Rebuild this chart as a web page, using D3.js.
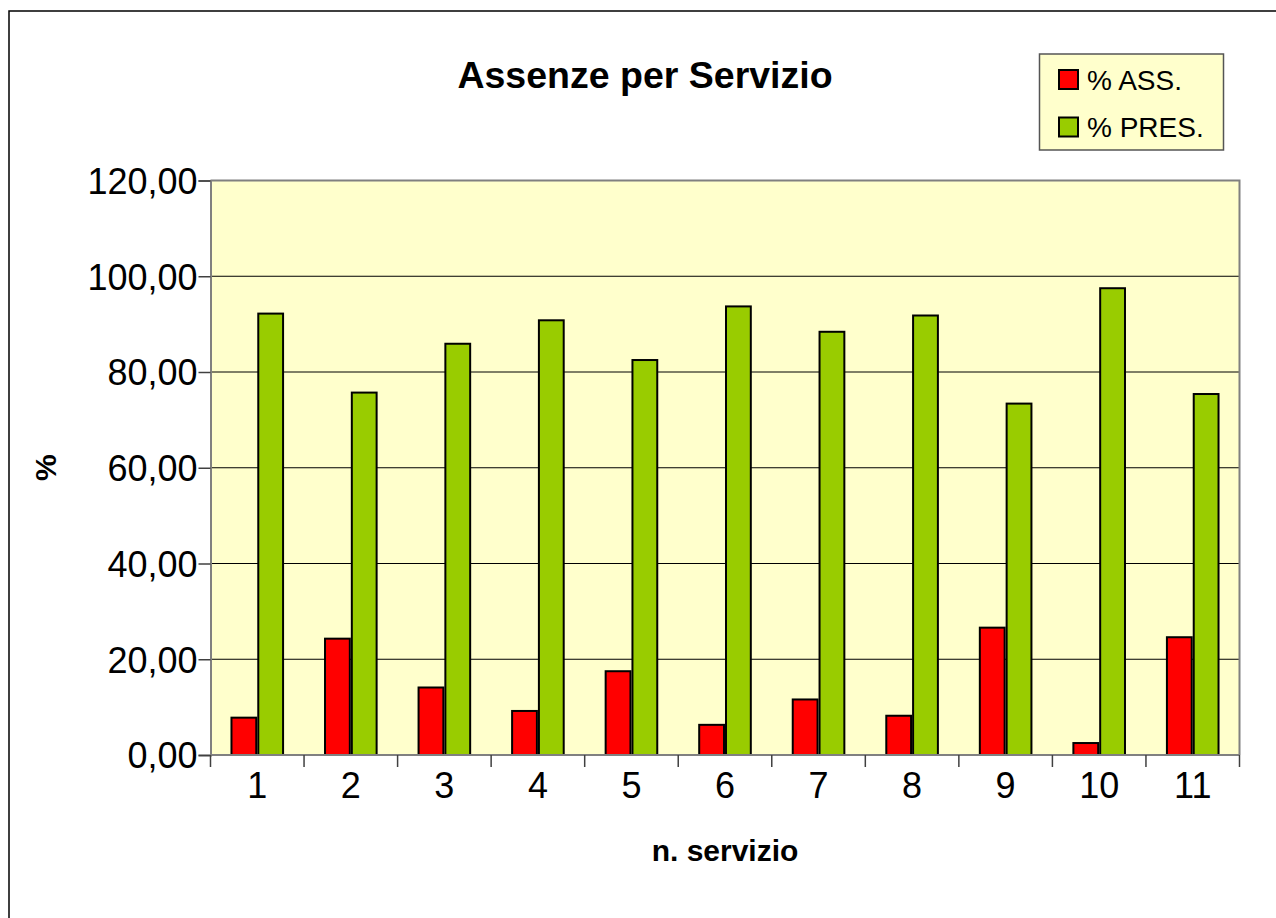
<!DOCTYPE html>
<html>
<head>
<meta charset="utf-8">
<script src="https://cdn.jsdelivr.net/npm/d3@7"></script>
<style>
  body { margin: 0; background: #fff; }
  svg { display: block; font-family: "Liberation Sans", Arial, sans-serif; }
</style>
</head>
<body>
<script>
// data
const categories = ["1", "2", "3", "4", "5", "6", "7", "8", "9", "10", "11"]
const series = ["% ASS.", "% PRES."]
const assenze = [7.8, 24.3, 14.1, 9.2, 17.5, 6.3, 11.6, 8.2, 26.6, 2.5, 24.6]
const presenze = [92.2, 75.7, 85.9, 90.8, 82.5, 93.7, 88.4, 91.8, 73.4, 97.5, 75.4]
const yTicks = [0, 20, 40, 60, 80, 100, 120]
const colors = ["#ff0000", "#99cc00"]

const W = 1276, H = 918
const plot = { left: 210.5, top: 180.5, right: 1239.5, bottom: 755 }

const svg = d3.select("body").append("svg")
  .attr("width", W)
  .attr("height", H)

// outer chart border
svg.append("rect")
  .attr("x", 9).attr("y", 11)
  .attr("width", W + 20).attr("height", H + 20)
  .attr("fill", "none")
  .attr("stroke", "#000")
  .attr("stroke-width", 1.5)

const x = d3.scaleBand()
  .domain(categories)
  .range([plot.left, plot.right])
  .padding(0)

const xInner = d3.scaleBand()
  .domain(series)
  .range([0, x.bandwidth()])
  .paddingInner(0)
  .paddingOuter(0.745)

const y = d3.scaleLinear()
  .domain([0, 120])
  .range([plot.bottom, plot.top])

// plot background
svg.append("rect")
  .attr("x", plot.left).attr("y", plot.top)
  .attr("width", plot.right - plot.left)
  .attr("height", plot.bottom - plot.top)
  .attr("fill", "#ffffcc")

// gridlines
svg.append("g")
  .selectAll("line")
  .data(yTicks.filter(t => t > 0 && t < 120))
  .join("line")
  .attr("x1", plot.left).attr("x2", plot.right)
  .attr("y1", d => y(d)).attr("y2", d => y(d))
  .attr("stroke", "#000")
  .attr("stroke-width", 1)

// plot area border (top / right)
svg.append("path")
  .attr("d", `M${plot.left},${plot.top}H${plot.right}V${plot.bottom}`)
  .attr("fill", "none")
  .attr("stroke", "#808080")
  .attr("stroke-width", 2)

// bars
const rows = categories.map((c, i) => ({ cat: c, vals: [assenze[i], presenze[i]] }))
const groups = svg.append("g")
  .selectAll("g")
  .data(rows)
  .join("g")
  .attr("transform", d => `translate(${x(d.cat)},0)`)

groups.selectAll("rect")
  .data(d => d.vals.map((v, j) => ({ key: series[j], v: v, j: j })))
  .join("rect")
  .attr("x", d => xInner(d.key) + 1)
  .attr("width", xInner.bandwidth() - 2)
  .attr("y", d => y(d.v))
  .attr("height", d => y(0) - y(d.v))
  .attr("fill", d => colors[d.j])
  .attr("stroke", "#000")
  .attr("stroke-width", 2)

// y axis
const fmt = d => d3.format(".2f")(d).replace(".", ",")
const yAxis = svg.append("g")
  .attr("transform", `translate(${plot.left},0)`)
  .call(d3.axisLeft(y).tickValues(yTicks).tickFormat(fmt).tickSize(12).tickPadding(0))
yAxis.select(".domain").attr("stroke", "#808080").attr("stroke-width", 2)
yAxis.selectAll(".tick line").attr("stroke", "#404040").attr("stroke-width", 1.5)
yAxis.selectAll("text")
  .attr("font-size", 36)
  .attr("fill", "#000")
  .attr("x", -13)
  .attr("dy", "0.36em")

// x axis: ticks sit on band edges
const xAxis = svg.append("g")
  .attr("transform", `translate(0,${plot.bottom})`)
xAxis.append("line")
  .attr("x1", plot.left).attr("x2", plot.right)
  .attr("stroke", "#808080")
  .attr("stroke-width", 2)
const edges = categories.map(c => x(c)).concat([plot.right])
xAxis.selectAll(".edge")
  .data(edges)
  .join("line")
  .attr("class", "edge")
  .attr("x1", d => d).attr("x2", d => d)
  .attr("y1", 0).attr("y2", 12)
  .attr("stroke", "#404040")
  .attr("stroke-width", 1.5)
xAxis.selectAll("text")
  .data(categories)
  .join("text")
  .attr("x", d => x(d) + x.bandwidth() / 2)
  .attr("y", 43)
  .attr("text-anchor", "middle")
  .attr("font-size", 36)
  .text(d => d)

// titles
svg.append("text")
  .attr("x", 645).attr("y", 88)
  .attr("text-anchor", "middle")
  .attr("font-size", 37.5)
  .attr("font-weight", "bold")
  .text("Assenze per Servizio")

svg.append("text")
  .attr("x", 725).attr("y", 861)
  .attr("text-anchor", "middle")
  .attr("font-size", 30)
  .attr("font-weight", "bold")
  .text("n. servizio")

svg.append("text")
  .attr("transform", `translate(56,${(plot.top + plot.bottom) / 2}) rotate(-90)`)
  .attr("text-anchor", "middle")
  .attr("font-size", 30)
  .attr("font-weight", "bold")
  .text("%")

// legend
const legend = svg.append("g")
legend.append("rect")
  .attr("x", 1039.5).attr("y", 54)
  .attr("width", 184).attr("height", 96)
  .attr("fill", "#ffffcc")
  .attr("stroke", "#555")
  .attr("stroke-width", 1.5)
const items = legend.selectAll("g")
  .data(series)
  .join("g")
  .attr("transform", (d, i) => `translate(1059,${79.5 + i * 47.5})`)
items.append("rect")
  .attr("x", 0).attr("y", -9.5)
  .attr("width", 19).attr("height", 19)
  .attr("fill", (d, i) => colors[i])
  .attr("stroke", "#000")
  .attr("stroke-width", 2)
items.append("text")
  .attr("x", 28).attr("y", 10)
  .attr("font-size", 28)
  .text(d => d)
</script>
</body>
</html>
